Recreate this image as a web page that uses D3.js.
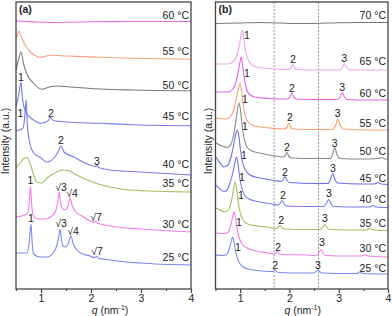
<!DOCTYPE html>
<html>
<head>
<meta charset="utf-8">
<script src="https://cdn.jsdelivr.net/npm/d3@7"></script>
<style>
  body { margin: 0; background: #fff; }
  svg { display: block; font-family: Arial, "Liberation Sans", sans-serif; }
</style>
</head>
<body>
<svg id="chart" width="392" height="316"></svg>
<script>
// q axis ticks (nm^-1)
const qTicks = [1, 2, 3, 4];
const qMinor = [0.5, 1.5, 2.5, 3.5];
const dashedQ = [1.69, 2.59];

// ---- panel (a): [q, intensity a.u. incl. offset] ----
const a60 = [[0.5,268],[0.7,267.5],[0.9,267],[1.1,266.7],[1.3,266.5],[1.6,266.8],[2.0,267.2],[2.5,267.4],[3.0,267.5],[3.5,267.5],[4.0,267.5]];
const a55 = [[0.5,250],[0.53,255],[0.56,258],[0.58,255.5],[0.61,252],[0.66,246],[0.71,242],[0.78,237.5],[0.84,235],[0.98,231.7],[1.11,233],[1.24,233.7],[1.51,233],[2.18,231.7],[2.84,230.7],[4.0,229.7]];
const a50 = [[0.5,219],[0.55,229],[0.6,237.3],[0.65,225.7],[0.71,215.7],[0.85,205.7],[1.01,199.7],[1.18,202.3],[1.31,203],[1.64,201.7],[2.18,200],[2.84,199],[4.0,198.3]];
const a45 = [[0.5,183],[0.52,186],[0.56,196],[0.6,207],[0.62,196],[0.65,184],[0.71,176],[0.85,169],[1.01,165.7],[1.15,168.7],[1.18,171.7],[1.25,168.3],[1.51,167],[2.18,165.7],[2.84,164.3],[4.0,163.3]];
const a40 = [[0.5,158],[0.64,161],[0.67,170],[0.69,182],[0.705,189],[0.72,170],[0.75,153],[0.84,137],[1.0,131],[1.12,127],[1.26,131],[1.34,137],[1.4,143],[1.46,137],[1.66,132],[1.88,126],[2.09,122.5],[2.12,123.5],[2.15,121.5],[2.38,119],[2.98,117],[4.0,114]];
const a35 = [[0.5,121],[0.58,126],[0.66,130.5],[0.72,131.5],[0.78,126],[0.86,113],[0.92,107],[1.02,106],[1.12,111],[1.28,116],[1.44,119],[1.54,118.5],[1.68,115],[1.88,110],[2.08,106],[2.38,102],[2.78,99],[4.0,97]];
const a30 = [[0.5,72],[0.72,75],[0.76,83],[0.79,103],[0.815,84],[0.84,74],[0.94,70],[1.08,70],[1.22,73],[1.3,79],[1.34,89],[1.365,97],[1.39,87],[1.42,81],[1.48,79],[1.54,83],[1.58,91],[1.62,84],[1.7,77],[1.82,73],[1.98,68],[2.06,66.5],[2.09,68],[2.12,66],[2.38,63],[2.98,60],[4.0,57]];
const a25 = [[0.5,36],[0.72,36],[0.76,45],[0.8,65],[0.825,45],[0.85,35],[0.98,32],[1.12,32],[1.24,36],[1.32,44],[1.36,54],[1.38,60],[1.41,49],[1.44,43],[1.48,42],[1.54,45],[1.58,51],[1.6,53],[1.64,46],[1.72,39],[1.84,35],[1.98,33],[2.08,31.5],[2.11,33],[2.14,31],[2.38,29],[2.98,26],[4.0,24]];

const tempsA = ["60", "55", "50", "45", "40", "35", "30", "25"];
const curvesA = [a60, a55, a50, a45, a40, a35, a30, a25];
const tempLevelA = [270, 234, 200, 169, 121, 102, 61, 28];
// peak index labels: [q, intensity, text]
const peakLabelsA = [
  [0.6, 212, "1"], [0.59, 176, "1"], [1.2, 176, "2"], [1.4, 149, "2"], [2.12, 128, "3"],
  [0.79, 109, "1"], [1.4, 102, "√3"], [1.62, 96, "√4"], [2.1, 72, "√7"],
  [0.8, 71, "1"], [1.4, 66, "√3"], [1.64, 58, "√4"], [2.12, 38, "√7"]
];

// ---- panel (b) ----
const b70 = [[0.51,265.5],[1.0,266],[1.4,266.5],[1.8,266],[2.2,265.5],[2.8,266],[3.4,266.5],[4.0,266.5]];
const b65 = [[0.51,225],[0.75,225],[0.875,228],[0.936,234],[0.987,244],[1.017,254],[1.037,259],[1.068,253],[1.098,241],[1.139,232],[1.2,226],[1.32,222],[1.605,220.5],[1.97,219.5],[2.03,221],[2.07,224.5],[2.11,220.5],[2.17,219.5],[2.62,219],[3.03,219],[3.07,221],[3.11,225.5],[3.15,222],[3.21,219.5],[3.64,219],[4.0,219]];
const b60 = [[0.51,197],[0.75,197],[0.854,200],[0.916,207],[0.967,219],[0.997,227],[1.017,232],[1.048,225],[1.078,213],[1.119,202],[1.18,195],[1.3,192],[1.605,190.5],[1.95,190],[2.01,192],[2.05,196],[2.09,191.5],[2.15,190],[2.62,189.5],[2.97,189.5],[3.03,192],[3.07,196.5],[3.11,192.5],[3.17,189.5],[3.64,189],[4.0,189]];
const b55 = [[0.51,171],[0.71,170],[0.81,173],[0.875,180],[0.926,192],[0.967,201],[0.997,206],[1.027,199],[1.058,187],[1.098,174],[1.16,167],[1.3,163],[1.605,161],[1.89,160],[1.95,161.5],[1.99,166],[2.03,161.5],[2.09,160],[2.62,159.5],[2.88,159.5],[2.94,164],[2.98,170],[3.03,164],[3.09,160],[3.64,159],[4.0,159]];
const b50 = [[0.51,146],[0.63,143],[0.733,141.5],[0.814,145],[0.875,156],[0.916,169],[0.946,180],[0.977,186],[1.007,179],[1.037,165],[1.078,151],[1.139,142],[1.24,138],[1.443,135.5],[1.707,133],[1.87,132],[1.91,133],[1.95,136.5],[1.99,132.5],[2.05,131],[2.52,130.5],[2.82,130.5],[2.88,135],[2.92,141.5],[2.96,135],[3.03,130.5],[3.43,130],[3.8,130.5],[3.88,131.5],[3.94,130],[4.0,130]];
const b45 = [[0.51,132],[0.591,126],[0.672,122],[0.753,124],[0.814,132],[0.865,143],[0.906,154],[0.946,159],[0.977,152],[1.007,139],[1.047,127],[1.108,119],[1.2,114],[1.4,111],[1.707,108.5],[1.83,107.5],[1.87,109],[1.91,112.5],[1.95,108.5],[2.01,106.5],[2.52,105.5],[2.78,105.5],[2.84,111],[2.88,115.5],[2.92,110],[2.98,106],[3.43,105],[3.72,105],[3.8,106.5],[3.86,105],[4.0,104.5]];
const b40 = [[0.51,104],[0.591,100],[0.672,97.5],[0.733,99],[0.794,106],[0.855,117],[0.895,127],[0.926,132],[0.956,125],[0.987,113],[1.027,102],[1.088,94],[1.18,90],[1.4,87],[1.64,85],[1.77,84],[1.81,85.5],[1.85,88.5],[1.89,85],[1.95,83],[2.42,82.5],[2.7,82.5],[2.76,86.5],[2.8,89.5],[2.84,85.5],[2.9,82.5],[3.43,82],[3.63,82],[3.7,83.5],[3.76,82],[4.0,81.5]];
const b35 = [[0.51,81],[0.59,79],[0.672,77],[0.774,80],[0.824,88],[0.865,99],[0.895,107],[0.926,101],[0.956,89],[0.997,77],[1.058,69],[1.16,65],[1.36,63],[1.605,61.5],[1.727,60.5],[1.77,61.5],[1.81,63.5],[1.85,61],[1.91,60],[2.42,59.5],[2.62,59.5],[2.68,62],[2.72,64.5],[2.76,61.5],[2.82,59.5],[3.43,59],[3.57,59],[3.63,60.5],[3.7,59],[4.0,58.5]];
const b30 = [[0.51,56],[0.63,55.5],[0.733,56],[0.794,61],[0.834,69],[0.855,74],[0.875,77],[0.906,71],[0.936,61],[0.977,52],[1.037,45],[1.139,41],[1.32,38],[1.565,36],[1.687,35],[1.727,36],[1.757,37.5],[1.788,35.5],[1.849,34.5],[2.32,34],[2.54,33.5],[2.6,36.5],[2.64,39.5],[2.68,36],[2.74,33.5],[3.23,33],[3.47,33],[3.53,34.5],[3.59,33],[4.0,32]];
const b25 = [[0.51,34],[0.63,33.5],[0.712,34],[0.773,39],[0.814,47],[0.845,52],[0.875,47],[0.906,38],[0.956,29],[1.037,23],[1.16,20],[1.36,18.5],[1.605,17.5],[1.666,17.5],[1.707,19],[1.747,17],[1.808,16.5],[2.32,16],[2.48,16],[2.54,17.5],[2.58,19],[2.62,17],[2.68,16],[3.23,15.5],[3.37,15.5],[3.43,17],[3.49,15.5],[4.0,15]];

const tempsB = ["70", "65", "60", "55", "50", "45", "40", "35", "30", "25"];
const curvesB = [b70, b65, b60, b55, b50, b45, b40, b35, b30, b25];
const tempLevelB = [270, 224, 192, 162, 134, 107, 86, 62, 37, 17];
// "1","2","3" labels per curve (65 .. 25 °C): [q, intensity]
const order1B = [[1.139,254],[1.139,216],[1.098,190],[1.098,163],[1.078,134],[1.037,112],[1.017,94],[0.977,67],[0.956,42]];
const order2B = [[2.07,230],[2.05,201],[2.01,172],[1.95,142],[1.91,117],[1.87,94],[1.83,69],[1.77,42],[1.71,24]];
const order3B = [[3.11,231],[3.07,202],[2.98,176],[2.92,146],[2.88,121],[2.8,96],[2.72,71],[2.66,47],[2.58,24]];

// colours
const colorsA = { "60": "#e96ee0", "55": "#f6a27c", "50": "#7a7a7a", "45": "#7777ef", "40": "#7777ef", "35": "#a3c060", "30": "#f07cec", "25": "#7c86f0" };
const colorsB = { "70": "#7a7a7a", "65": "#f3a2ef", "60": "#e463e0", "55": "#f5a072", "50": "#8a8a8a", "45": "#6d6df0", "40": "#7a7af2", "35": "#a0bf60", "30": "#ef80ea", "25": "#7d8cf0" };

const svg = d3.select("#chart");
const plotTop = 2, plotBottom = 289;
const y = d3.scaleLinear().domain([0, 287]).range([plotBottom, plotTop]);
const line = (x) => d3.line().x((d) => x(d[0])).y((d) => y(d[1])).curve(d3.curveMonotoneX);

function drawPanel(opt) {
  const x = d3.scaleLinear().domain([0.5, 4]).range([opt.left, opt.right]);
  const g = svg.append("g");

  // dashed guide lines
  g.selectAll(".guide")
    .data(opt.guides || [])
    .enter()
    .append("line")
    .attr("x1", (d) => x(d))
    .attr("x2", (d) => x(d))
    .attr("y1", plotTop)
    .attr("y2", plotBottom)
    .attr("stroke", "#8a8a8a")
    .attr("stroke-width", 0.9)
    .attr("stroke-dasharray", "2,1.5");

  // curves
  g.selectAll(".curve")
    .data(opt.curves)
    .enter()
    .append("path")
    .attr("d", (d) => line(x)(d))
    .attr("fill", "none")
    .attr("stroke", (d, i) => opt.colors[opt.temps[i]])
    .attr("stroke-width", 1.1);

  // temperature labels
  g.selectAll(".temp")
    .data(opt.temps)
    .enter()
    .append("text")
    .attr("x", opt.right - 2)
    .attr("y", (d, i) => y(opt.levels[i]))
    .attr("text-anchor", "end")
    .style("font-size", "10.5px")
    .style("fill", "#222")
    .text((d) => `${d} °C`);

  // peak labels
  g.selectAll(".peak")
    .data(opt.peaks)
    .enter()
    .append("text")
    .attr("x", (d) => x(d[0]))
    .attr("y", (d) => y(d[1]))
    .attr("text-anchor", "middle")
    .attr("dominant-baseline", "central")
    .style("font-size", "10.5px")
    .style("fill", "#222")
    .text((d) => d[2]);

  // frame
  g.append("rect")
    .attr("x", opt.left)
    .attr("y", plotTop)
    .attr("width", opt.right - opt.left)
    .attr("height", plotBottom - plotTop)
    .attr("fill", "none")
    .attr("stroke", "#444")
    .attr("stroke-width", 1.3);

  // axis ticks
  const ax = g.append("g").attr("transform", `translate(0,${plotBottom})`)
    .call(d3.axisBottom(x).tickValues(qTicks).tickSize(4).tickPadding(2).tickFormat(d3.format("d")));
  ax.select(".domain").remove();
  ax.selectAll("line").attr("stroke", "#444").attr("stroke-width", 1.2);
  ax.selectAll("text").style("font-size", "10.5px").style("fill", "#222").style("font-family", "Arial, 'Liberation Sans', sans-serif");

  const mi = g.append("g").attr("transform", `translate(0,${plotBottom})`)
    .call(d3.axisBottom(x).tickValues(qMinor).tickSize(2).tickFormat(""));
  mi.select(".domain").remove();
  mi.selectAll("line").attr("stroke", "#444").attr("stroke-width", 1.1);

  // panel tag
  g.append("text")
    .attr("x", opt.left + 3)
    .attr("y", 13)
    .style("font-size", "10.5px")
    .style("font-weight", "bold")
    .style("fill", "#222")
    .text(`(${opt.id})`);

  // x title
  const xt = g.append("text")
    .attr("x", x(opt.titleQ))
    .attr("y", 313.5)
    .attr("text-anchor", "middle")
    .style("font-size", "10.5px")
    .style("fill", "#222");
  xt.append("tspan").style("font-style", "italic").text("q");
  xt.append("tspan").text(" (nm");
  xt.append("tspan").attr("dy", -4).style("font-size", "7px").text("-1");
  xt.append("tspan").attr("dy", 4).text(")");

  // y title
  g.append("text")
    .attr("transform", `translate(${opt.yTitleX},141) rotate(-90)`)
    .attr("text-anchor", "middle")
    .attr("dominant-baseline", "central")
    .style("font-size", "10.5px")
    .style("fill", "#222")
    .text("Intensity (a.u.)");
}

drawPanel({
  id: "a", left: 16, right: 191, curves: curvesA, temps: tempsA, levels: tempLevelA,
  colors: colorsA, peaks: peakLabelsA, titleQ: 2.38, yTitleX: 4.5
});

drawPanel({
  id: "b", left: 215.5, right: 388, curves: curvesB, temps: tempsB, levels: tempLevelB,
  colors: colorsB, guides: dashedQ, titleQ: 2.27, yTitleX: 208,
  peaks: [
    ...order1B.map((d) => [d[0], d[1], "1"]),
    ...order2B.map((d) => [d[0], d[1], "2"]),
    ...order3B.map((d) => [d[0], d[1], "3"])
  ]
});
</script>
</body>
</html>
